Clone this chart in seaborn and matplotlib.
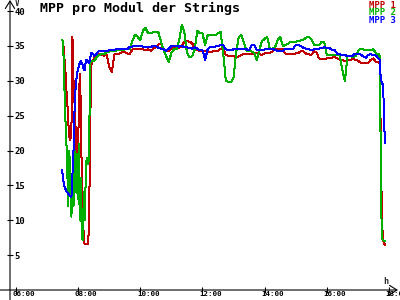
import numpy as np
import pandas as pd
import matplotlib
matplotlib.use("Agg")
import matplotlib.pyplot as plt
import seaborn as sns
from matplotlib.transforms import ScaledTranslation

# ---------------- data ----------------
series_names = ["MPP 1", "MPP 2", "MPP 3"]
series_colors = ["#c00000", "#00b000", "#0000ff"]

# sample times: 2-min steps in the morning ramp, 5-min steps during the day, 2-min at sunset
times_early = pd.date_range("2000-01-01 07:29", "2000-01-01 08:31", freq="2min")
times_main = pd.date_range("2000-01-01 08:35", "2000-01-01 17:40", freq="5min")
times_end = pd.date_range("2000-01-01 17:42", "2000-01-01 17:52", freq="2min")

mpp1_early = [35.8, 35.6, 33.5, 32.0, 29.0, 27.0, 24.0, 22.0, 21.5, 23.0, 36.3, 27.0,
              30.0, 23.0, 17.0, 20.0, 24.0, 31.0, 27.0, 16.0, 12.0, 6.8, 6.6, 6.6,
              6.6, 6.6, 9.0, 22.0, 32.0, 32.8, 33.0, 33.2]
mpp2_early = [35.9, 35.5, 30.0, 25.0, 22.0, 17.0, 12.0, 20.0, 14.0, 10.5, 16.0, 12.0,
              20.0, 14.0, 19.5, 13.0, 21.0, 10.0, 16.0, 7.5, 7.2, 14.0, 10.0, 18.0,
              19.0, 18.0, 19.0, 32.5, 32.7, 32.8, 32.8, 32.8]
mpp3_early = [17.2, 15.8, 15.0, 14.6, 14.2, 14.0, 13.8, 13.6, 13.4, 13.3, 16.5, 20.0,
              25.8, 29.0, 30.5, 31.5, 32.0, 32.5, 32.8, 32.5, 32.2, 31.6, 31.6, 33.0,
              33.0, 32.8, 32.5, 33.0, 34.0, 34.0, 33.8, 33.6]

mpp1_main = [33.7, 33.8, 33.8, 33.6, 33.7,
             32.0, 31.3, 33.8, 33.8, 33.9, 34.1, 34.1, 33.9, 33.9, 34.5, 34.5, 34.6,
             34.6, 34.5, 34.4, 34.5, 34.3, 34.6, 34.8, 35.2, 35.3, 34.4, 34.3, 34.2,
             34.7, 34.7, 34.8, 34.7, 35.0, 35.6, 35.7, 35.6, 35.4, 34.6, 34.4, 34.3,
             34.2, 34.2, 34.2, 34.1, 34.2, 34.2, 34.3, 34.6, 34.6, 33.7, 33.6, 33.5,
             33.5, 33.4, 33.5, 33.7, 33.9, 33.9, 33.8, 33.9, 33.9, 34.0, 33.8, 33.7,
             33.9, 34.0, 34.0, 34.2, 34.5, 34.5, 34.6, 34.5, 33.9, 33.9, 33.8, 33.9,
             33.9, 34.0, 34.2, 34.2, 33.9, 33.8, 33.7, 34.2, 34.1, 33.2, 33.1, 33.1,
             33.2, 33.2, 33.3, 33.4, 33.2, 33.0, 33.0, 32.8, 33.0, 33.0, 33.1, 33.0,
             32.9, 32.6, 32.5, 32.6, 32.6, 33.0, 33.2, 32.7, 32.6]
mpp2_main = [33.3, 33.7, 33.8, 33.8, 34.1,
             34.2, 34.2, 34.2, 34.4, 34.4, 34.4, 34.5, 34.6, 34.6, 35.8, 36.6, 36.3,
             35.8, 37.2, 37.6, 36.8, 36.8, 37.0, 37.0, 36.9, 35.6, 34.4, 33.5, 32.7,
             34.0, 34.5, 34.5, 35.8, 38.0, 37.0, 34.0, 33.4, 33.5, 34.5, 37.2, 36.8,
             36.8, 35.1, 36.5, 36.5, 36.5, 36.5, 36.8, 37.0, 34.0, 30.0, 29.8, 29.8,
             30.5, 34.0, 36.2, 36.6, 35.5, 34.3, 34.2, 34.2, 34.0, 32.9, 34.5, 35.7,
             36.0, 36.3, 34.6, 34.6, 34.8, 35.8, 36.3, 35.0, 35.1, 35.3, 35.6, 35.6,
             35.6, 35.7, 35.8, 35.9, 36.2, 36.3, 36.0, 35.2, 35.1, 35.1, 35.6, 35.6,
             33.7, 33.7, 33.7, 33.7, 33.7, 33.7, 31.5, 30.0, 33.6, 33.6, 33.4, 33.5,
             34.2, 34.6, 34.5, 34.4, 34.4, 34.4, 34.5, 33.9, 33.8]
mpp3_main = [33.8, 34.3, 34.3, 34.2, 34.2,
             34.4, 34.4, 34.4, 34.6, 34.6, 34.5, 34.5, 34.5, 34.9, 34.9, 35.0, 35.0,
             35.0, 34.9, 34.8, 34.9, 34.8, 35.0, 35.0, 34.7, 34.6, 34.5, 34.3, 34.6,
             35.0, 35.0, 35.0, 34.9, 35.0, 34.8, 34.8, 34.7, 34.6, 34.8, 34.6, 34.4,
             34.4, 33.0, 34.5, 34.9, 34.9, 34.9, 35.0, 35.1, 35.1, 34.5, 34.4, 34.4,
             34.5, 34.5, 34.5, 34.5, 34.5, 34.5, 34.4, 35.1, 35.1, 34.4, 34.4, 34.4,
             34.5, 34.6, 34.6, 34.6, 34.4, 34.3, 34.2, 34.2, 34.6, 34.6, 34.6, 34.6,
             35.1, 35.1, 35.0, 34.7, 34.6, 34.5, 34.4, 34.5, 34.6, 34.6, 34.7, 34.8,
             34.7, 34.7, 34.4, 34.4, 33.9, 33.8, 33.7, 33.7, 33.5, 33.5, 33.6, 33.9,
             33.9, 33.8, 33.5, 33.3, 33.7, 33.8, 33.7, 33.6, 33.2]

mpp1_end = [32.5, 23.0, 12.0, 7.5, 6.8, 6.5]
mpp2_end = [33.5, 20.0, 7.6, 7.2, 7.0, 7.0]
mpp3_end = [33.0, 30.5, 29.7, 29.5, 26.8, 21.0]

y_ticks = [5, 10, 15, 20, 25, 30, 35, 40]
x_tick_labels = ["06:00", "08:00", "10:00", "12:00", "14:00", "16:00", "18:00"]
title = "MPP pro Modul der Strings"

# ---------------- build table ----------------
t_all = times_early.append(times_main).append(times_end)
hours = t_all.hour + t_all.minute / 60.0
values = {
    "MPP 1": mpp1_early + mpp1_main + mpp1_end,
    "MPP 2": mpp2_early + mpp2_main + mpp2_end,
    "MPP 3": mpp3_early + mpp3_main + mpp3_end,
}
frames = []
for name in series_names:
    frames.append(pd.DataFrame({"h": np.asarray(hours), "V": values[name], "series": name}))
df = pd.concat(frames, ignore_index=True)

# ---------------- style ----------------
sns.set_theme(style="white")
plt.rcParams["font.family"] = ["DejaVu Sans Mono", "DejaVu Sans"]
plt.rcParams["font.weight"] = "bold"

fig = plt.figure(figsize=(4, 3), dpi=100)
ax_left, ax_right = 10, 398     # pixel columns of the y axis and the arrow tip
ax_bottom = 290                 # pixel row of the x axis
ax = fig.add_axes([ax_left / 400, (300 - ax_bottom) / 300,
                   (ax_right - ax_left) / 400, ax_bottom / 300])

px_per_hour = 31.08
px_per_volt = 6.975
ax.set_xlim(6 - (16 - ax_left) / px_per_hour, 6 + (ax_right - 16) / px_per_hour)
ax.set_ylim(0, ax_bottom / px_per_volt)

palette = dict(zip(series_names, series_colors))
sns.lineplot(data=df, x="h", y="V", hue="series", palette=palette,
             estimator=None, sort=False, legend=False, ax=ax,
             linewidth=0.72, antialiased=False)
ax.set_xlabel("")
ax.set_ylabel("")

for s in ax.spines.values():
    s.set_visible(False)

# axes with arrows, extending past the crossing like the reference
arrow = dict(arrowstyle="->,head_length=0.45,head_width=0.28", lw=0.8,
             color="black", shrinkA=0, shrinkB=0)
ax.annotate("", xy=(0, 1.0), xytext=(0, -10 / ax_bottom), xycoords="axes fraction",
            textcoords="axes fraction", arrowprops=arrow, annotation_clip=False)
ax.annotate("", xy=(1.0, 0), xytext=(-ax_left / (ax_right - ax_left), 0),
            xycoords="axes fraction", textcoords="axes fraction",
            arrowprops=arrow, annotation_clip=False)

# ticks
ax.set_xticks([6, 8, 10, 12, 14, 16, 18])
ax.set_xticklabels(x_tick_labels)
ax.set_yticks(y_ticks)
ax.set_yticklabels([str(v) for v in y_ticks])
ax.tick_params(axis="both", direction="inout", length=4.5, width=0.8,
               color="black", labelcolor="black")
ax.tick_params(axis="x", bottom=True, pad=-1.6, labelsize=5.4)
ax.tick_params(axis="y", left=True, pad=-5.2, labelsize=6.4)
for lab in ax.get_yticklabels():
    lab.set_ha("left")
    lab.set_fontweight("bold")
for lab in ax.get_xticklabels():
    lab.set_fontweight("bold")
    lab.set_transform(lab.get_transform() + ScaledTranslation(8 / 100, 0, fig.dpi_scale_trans))

# unit labels
fig.text(15 / 400, 1 - 3 / 300, "V", fontsize=5.5, fontweight="bold", ha="left", va="center")
fig.text(383 / 400, 1 - 282 / 300, "h", fontsize=6, fontweight="bold", ha="left", va="center")

# title
fig.text(40 / 400, 1 - 8 / 300, title, fontsize=9.6, fontweight="bold",
         ha="left", va="center", color="black")

# legend as coloured text
for i, (name, col) in enumerate(zip(series_names, series_colors)):
    fig.text(396 / 400, 1 - (5 + 7.6 * i) / 300, name, fontsize=6.4,
             fontweight="bold", color=col, ha="right", va="center")

fig.savefig("out.png", dpi=100, facecolor="white")
